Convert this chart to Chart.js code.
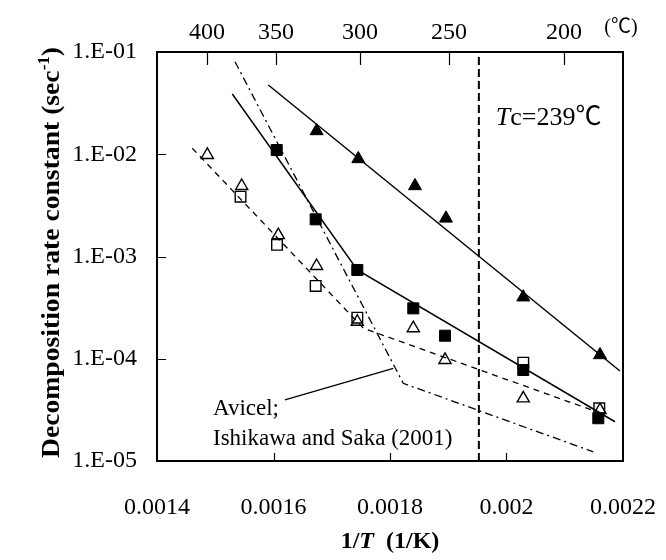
<!DOCTYPE html>
<html><head><meta charset="utf-8">
<script src="https://cdn.jsdelivr.net/npm/chart.js@4.4.1/dist/chart.umd.min.js"></script>
<style>html,body{margin:0;padding:0;background:#fff;}canvas{display:block;}</style>
</head><body>
<canvas id="c" width="666" height="560"></canvas>
<script>
// ---------- data ----------
const xTickValues = [0.0014, 0.0016, 0.0018, 0.0020, 0.0022];
const xTickLabels = ['0.0014', '0.0016', '0.0018', '0.002', '0.0022'];
const yTickValues = [1e-5, 1e-4, 1e-3, 1e-2, 1e-1];
const yTickLabels = ['1.E-05', '1.E-04', '1.E-03', '1.E-02', '1.E-01'];
const topTickCelsius = [400, 350, 300, 250, 200];
const topTickInvT = [0.0014858, 0.0016043, 0.0017485, 0.0019013, 0.0020987];
const TcCelsius = 239;

// filled triangles
const filledTriInvT = [0.001674, 0.0017456, 0.0018429, 0.0018961, 0.0020288, 0.0021605];
const filledTriK    = [0.0169, 0.0090, 0.0049, 0.00236, 0.00040, 0.000109];
// filled squares
const filledSqInvT = [0.0016055, 0.0016724, 0.0017439, 0.00184, 0.0018944, 0.0020288, 0.0021576];
const filledSqK    = [0.0110, 0.00231, 0.000738, 0.000311, 0.000168, 0.0000776, 0.0000262];
// open triangles
const openTriInvT = [0.0014864, 0.0015454, 0.0016082, 0.001674, 0.0017439, 0.00184, 0.0018944, 0.0020288, 0.0021605];
const openTriK    = [0.00984, 0.00489, 0.00162, 0.000807, 0.000230, 0.000199, 0.0000973, 0.0000410, 0.0000315];
// open squares
const openSqInvT = [0.0015434, 0.001606, 0.0016724, 0.0017439, 0.0020288, 0.0021593];
const openSqK    = [0.00385, 0.00130, 0.000515, 0.000252, 0.0000915, 0.0000328];

// fitted / reference lines
const fitFilledTriInvT = [0.0015911, 0.0021948];
const fitFilledTriK    = [0.04755, 0.0000759];
const fitFilledSqInvT  = [0.0015293, 0.0017439, 0.0021862];
const fitFilledSqK     = [0.0388, 0.000738, 0.0000242];
const fitOpenInvT      = [0.0014606, 0.0017542, 0.0021548];
const fitOpenK         = [0.01144, 0.000199, 0.0000303];
const avicelInvT       = [0.0015339, 0.0018228, 0.002149];
const avicelK          = [0.0804, 0.0000575, 0.0000123];
const leaderInvT       = [0.0016197, 0.0018057];
const leaderK          = [0.0000395, 0.0000806];

// ---------- chart ----------
const SERIF = '"Liberation Serif", "Times New Roman", "Noto Sans CJK JP", serif';
const pts = (xs, ys) => xs.map((x, i) => ({ x: x, y: ys[i] }));
const TcInv = 1 / (TcCelsius + 273.15);

function lineDS(label, data, dash, width) {
  return { label, data, showLine: true, borderColor: '#000', borderWidth: width,
    borderDash: dash, pointRadius: 0, pointHoverRadius: 0, fill: false, tension: 0, order: 1 };
}
function markerDS(label, data, style, filled, r) {
  return { label, data, showLine: false, pointStyle: style, pointRadius: r, pointHoverRadius: r,
    pointBackgroundColor: filled ? '#000' : 'rgba(0,0,0,0)', pointBorderColor: '#000',
    pointBorderWidth: filled ? 1 : 1.4, order: 0 };
}

const decor = {
  id: 'decor',
  beforeDraw(chart) {
    const c = chart.ctx; c.save(); c.fillStyle = '#fff'; c.fillRect(0, 0, chart.width, chart.height); c.restore();
  },
  afterDraw(chart) {
    const ctx = chart.ctx, ca = chart.chartArea, sx = chart.scales.x, sy = chart.scales.y;
    ctx.save();
    ctx.strokeStyle = '#000';
    ctx.lineWidth = 1.2;
    ctx.beginPath();
    yTickValues.slice(1, -1).forEach(v => { const p = Math.round(sy.getPixelForValue(v)) + 0.5; ctx.moveTo(ca.left, p); ctx.lineTo(ca.left + 9, p); });
    xTickValues.slice(1, -1).forEach(v => { const p = Math.round(sx.getPixelForValue(v)) + 0.5; ctx.moveTo(p, ca.bottom); ctx.lineTo(p, ca.bottom - 8); });
    topTickInvT.forEach(v => { const p = Math.round(sx.getPixelForValue(v)) + 0.5; ctx.moveTo(p, ca.top); ctx.lineTo(p, ca.top + 13); });
    ctx.stroke();
    ctx.lineWidth = 2;
    ctx.strokeRect(ca.left, ca.top, ca.right - ca.left, ca.bottom - ca.top);

    ctx.fillStyle = '#000';
    ctx.textBaseline = 'alphabetic';
    // (°C) unit on top axis
    ctx.font = '20px ' + SERIF; ctx.textAlign = 'center';
    ctx.fillText('(\u2103)', ca.right - 2, 33);

    // Tc label
    ctx.textAlign = 'left';
    let x0 = sx.getPixelForValue(TcInv) + 17;
    ctx.font = 'italic 26px ' + SERIF; ctx.fillText('T', x0, ca.top + 73);
    x0 += ctx.measureText('T').width;
    ctx.font = '26px ' + SERIF; ctx.fillText('c=239\u2103', x0, ca.top + 73);

    // Avicel annotation
    ctx.font = '23px ' + SERIF;
    ctx.fillText('Avicel;', ca.left + 56, ca.top + 363);
    ctx.fillText('Ishikawa and Saka (2001)', ca.left + 56, ca.top + 393);

    // x title
    const fb = 'bold 24px ' + SERIF, fbi = 'italic bold 24px ' + SERIF;
    const xparts = [['1/', fb], ['T', fbi], ['  (1/K)', fb]];
    let w = 0; xparts.forEach(p => { ctx.font = p[1]; w += ctx.measureText(p[0]).width; });
    let cx = (ca.left + ca.right) / 2 - w / 2;
    xparts.forEach(p => { ctx.font = p[1]; ctx.fillText(p[0], cx, 548); cx += ctx.measureText(p[0]).width; });

    // y title (rotated, with superscript)
    const yf = 'bold 26px ' + SERIF, ys = 'bold 16px ' + SERIF;
    const yparts = [['Decomposition rate constant (sec', yf, 0], ['-1', ys, -10], [')', yf, 0]];
    let yw = 0; yparts.forEach(p => { ctx.font = p[1]; yw += ctx.measureText(p[0]).width; });
    ctx.translate(59, 252.5);
    ctx.rotate(-Math.PI / 2);
    const stretch = 411 / yw;
    ctx.scale(stretch, 1);
    let tx = -yw / 2;
    yparts.forEach(p => { ctx.font = p[1]; ctx.fillText(p[0], tx, p[2]); tx += ctx.measureText(p[0]).width; });
    ctx.restore();
  }
};

const tickFont = { family: SERIF, size: 24 };
const noSidePad = s => { s.paddingLeft = 0; s.paddingRight = 0; };
new Chart(document.getElementById('c'), {
  type: 'scatter',
  data: {
    datasets: [
      markerDS('filled triangles', pts(filledTriInvT, filledTriK), 'triangle', true, 7.5),
      markerDS('filled squares', pts(filledSqInvT, filledSqK), 'rect', true, 7.8),
      markerDS('open triangles', pts(openTriInvT, openTriK), 'triangle', false, 7),
      markerDS('open squares', pts(openSqInvT, openSqK), 'rect', false, 7.5),
      lineDS('fit filled triangles', pts(fitFilledTriInvT, fitFilledTriK), [], 1.5),
      lineDS('fit filled squares', pts(fitFilledSqInvT, fitFilledSqK), [], 1.5),
      lineDS('fit open', pts(fitOpenInvT, fitOpenK), [6, 5], 1.3),
      lineDS('Avicel', pts(avicelInvT, avicelK), [8, 4, 2, 4], 1.3),
      lineDS('leader', pts(leaderInvT, leaderK), [], 1.3),
      lineDS('Tc', [{ x: TcInv, y: yTickValues[0] }, { x: TcInv, y: yTickValues[yTickValues.length - 1] }], [8, 4], 2)
    ]
  },
  options: {
    responsive: false, animation: false, devicePixelRatio: 1,
    layout: { padding: { left: 0, right: 43, top: 0, bottom: 0 } },
    plugins: { legend: { display: false }, tooltip: { enabled: false } },
    scales: {
      x: {
        type: 'linear', position: 'bottom', min: 0.0014, max: 0.0022,
        afterBuildTicks: s => { s.ticks = xTickValues.map(v => ({ value: v })); },
        afterFit: s => { s.height = 99; noSidePad(s); },
        grid: { display: false, drawTicks: false }, border: { display: false },
        ticks: { padding: 32, color: '#000', font: tickFont, maxRotation: 0, autoSkip: false,
          callback: (v, i) => xTickLabels[i] }
      },
      x2: {
        type: 'linear', position: 'top', min: 0.0014, max: 0.0022,
        afterBuildTicks: s => { s.ticks = topTickInvT.map(v => ({ value: v })); },
        afterFit: s => { s.height = 52; noSidePad(s); },
        grid: { display: false, drawTicks: false }, border: { display: false },
        ticks: { padding: 5, color: '#000', font: tickFont, maxRotation: 0, autoSkip: false,
          callback: (v, i) => String(topTickCelsius[i]) }
      },
      y: {
        type: 'logarithmic', position: 'left', min: 1e-5, max: 1e-1,
        afterBuildTicks: s => { s.ticks = yTickValues.map(v => ({ value: v })); },
        afterFit: s => { s.width = 157; s.paddingTop = 0; s.paddingBottom = 0; },
        grid: { display: false, drawTicks: false }, border: { display: false },
        ticks: { padding: 20, color: '#000', font: tickFont, autoSkip: false,
          callback: (v, i) => yTickLabels[i] }
      }
    }
  },
  plugins: [decor]
});
</script>
</body></html>
